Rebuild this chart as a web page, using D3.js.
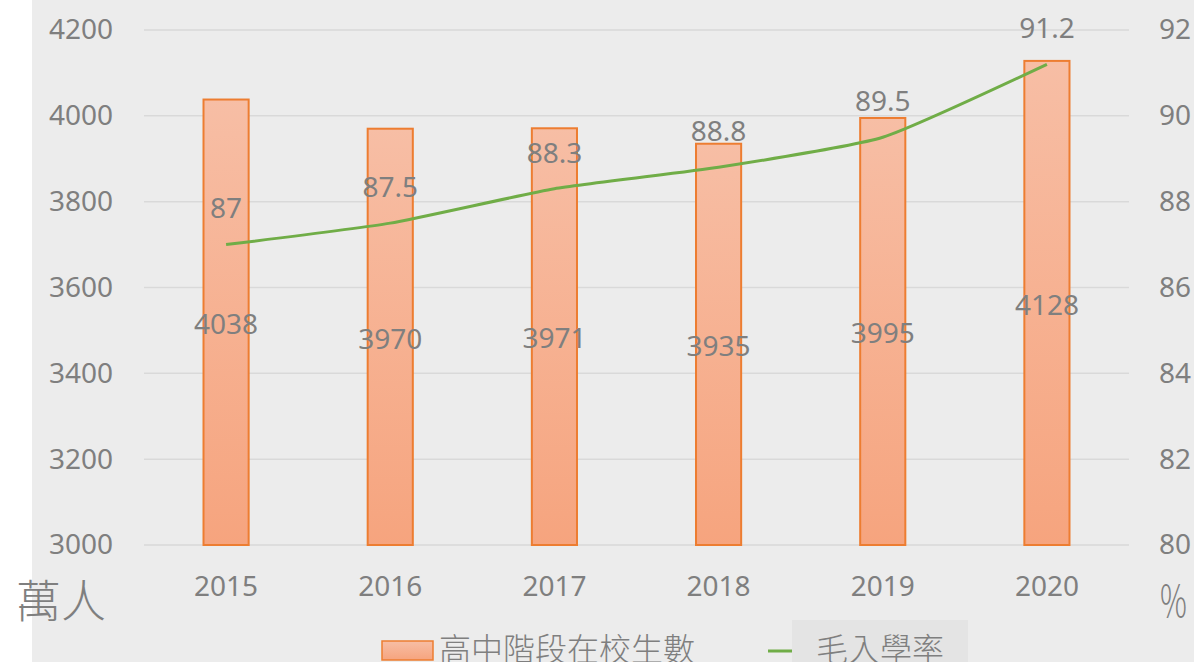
<!DOCTYPE html>
<html>
<head>
<meta charset="utf-8">
<script src="https://cdn.jsdelivr.net/npm/d3@7"></script>
<style>
  body { margin: 0; background: #fff; }
  svg text { fill: #7f7f7f; }
</style>
</head>
<body>
<svg id="chart" width="1194" height="662"></svg>
<script>
var years = ["2015", "2016", "2017", "2018", "2019", "2020"];
var students = [4038, 3970, 3971, 3935, 3995, 4128];   // 萬人
var enrolRate = [87, 87.5, 88.3, 88.8, 89.5, 91.2];    // %
var leftTicks = [3000, 3200, 3400, 3600, 3800, 4000, 4200];
var rightTicks = [80, 82, 84, 86, 88, 90, 92];
var barName = "高中階段在校生數";
var lineName = "毛入學率";

var svg = d3.select("#chart"),
  W = +svg.attr("width"),
  H = +svg.attr("height"),
  plot = {left: 144, right: 1129, top: 30, bottom: 545};

var numFont = "'Noto Sans', 'Open Sans', sans-serif";
var cjkFont = "'Noto Sans CJK TC', 'Noto Sans CJK SC', sans-serif";

// backgrounds
svg.append("rect").attr("width", W).attr("height", H).attr("fill", "#fff");
svg.append("rect").attr("x", 32).attr("y", 0).attr("width", W - 32).attr("height", H).attr("fill", "#ececec");

var defs = svg.append("defs");
var grad = defs.append("linearGradient")
  .attr("id", "barFill")
  .attr("x1", 0).attr("y1", 0).attr("x2", 0).attr("y2", 1);
grad.append("stop").attr("offset", "0%").attr("stop-color", "#f7bea5");
grad.append("stop").attr("offset", "100%").attr("stop-color", "#f6a47e");

var x = d3.scaleBand().domain(years).range([plot.left, plot.right]).padding(0),
  y = d3.scaleLinear().domain([3000, 4200]).range([plot.bottom, plot.top]),
  y2 = d3.scaleLinear().domain([80, 92]).range([plot.bottom, plot.top]);

var barW = x.bandwidth() * 0.275;
var cx = function(d) { return x(d) + x.bandwidth() / 2; };

// gridlines
svg.append("g").selectAll("line")
  .data(leftTicks)
  .enter().append("line")
  .attr("x1", plot.left).attr("x2", plot.right)
  .attr("y1", function(d) { return y(d); })
  .attr("y2", function(d) { return y(d); })
  .attr("stroke", "#d9d9d9")
  .attr("stroke-width", 1.5);

// left axis
var yAxis = d3.axisLeft(y).tickValues(leftTicks).tickFormat(d3.format("d")).tickSize(0).tickPadding(0);
var gl = svg.append("g")
  .attr("transform", "translate(113,0)")
  .call(yAxis);
gl.select(".domain").remove();
gl.selectAll("text").attr("font-family", numFont).attr("font-size", 28).attr("fill", "#7f7f7f");

// right axis
var yAxis2 = d3.axisRight(y2).tickValues(rightTicks).tickFormat(d3.format("d")).tickSize(0).tickPadding(0);
var gr = svg.append("g")
  .attr("transform", "translate(1159,0)")
  .call(yAxis2);
gr.select(".domain").remove();
gr.selectAll("text").attr("font-family", numFont).attr("font-size", 28).attr("fill", "#7f7f7f");

// bottom axis
var xAxis = d3.axisBottom(x).tickSize(0).tickPadding(0);
var gb = svg.append("g")
  .attr("transform", "translate(0,586)")
  .call(xAxis);
gb.select(".domain").remove();
gb.selectAll("text").attr("font-family", numFont).attr("font-size", 28)
  .attr("fill", "#7f7f7f").attr("dy", "0.35em");

// bars
svg.append("g").selectAll("rect")
  .data(students)
  .enter().append("rect")
  .attr("x", function(d, i) { return cx(years[i]) - barW / 2; })
  .attr("y", function(d) { return y(d); })
  .attr("width", barW)
  .attr("height", function(d) { return plot.bottom - y(d); })
  .attr("fill", "url(#barFill)")
  .attr("stroke", "#ed7d31")
  .attr("stroke-width", 2);

// line
var line = d3.line()
  .curve(d3.curveCardinal.tension(0.5))
  .x(function(d, i) { return cx(years[i]); })
  .y(function(d) { return y2(d); });

svg.append("path")
  .datum(enrolRate)
  .attr("d", line)
  .attr("fill", "none")
  .attr("stroke", "#70ad47")
  .attr("stroke-width", 3);

// bar labels (centre of bar)
svg.append("g").selectAll("text")
  .data(students)
  .enter().append("text")
  .attr("x", function(d, i) { return cx(years[i]); })
  .attr("y", function(d) { return (y(d) + plot.bottom) / 2 + 2; })
  .attr("text-anchor", "middle")
  .attr("dy", "0.35em")
  .attr("font-family", numFont)
  .attr("font-size", 28)
  .text(function(d) { return d; });

// line labels (above point)
svg.append("g").selectAll("text")
  .data(enrolRate)
  .enter().append("text")
  .attr("x", function(d, i) { return cx(years[i]); })
  .attr("y", function(d) { return y2(d) - 36; })
  .attr("text-anchor", "middle")
  .attr("dy", "0.35em")
  .attr("font-family", numFont)
  .attr("font-size", 28)
  .text(function(d) { return d; });

// unit labels
svg.append("text")
  .attr("x", 16).attr("y", 602)
  .attr("dy", "0.35em")
  .attr("font-family", cjkFont)
  .attr("font-weight", 300)
  .attr("font-size", 45)
  .text("萬人");

svg.append("text")
  .attr("transform", "translate(1160,602) scale(0.68,1)")
  .attr("dy", "0.35em")
  .attr("font-family", cjkFont)
  .attr("font-weight", 300)
  .attr("font-size", 44)
  .text("%");

// legend
var leg = svg.append("g");
leg.append("rect")
  .attr("x", 792).attr("y", 620).attr("width", 176).attr("height", 50)
  .attr("fill", "#e4e4e4");
leg.append("rect")
  .attr("x", 382).attr("y", 641).attr("width", 51).attr("height", 19)
  .attr("fill", "url(#barFill)")
  .attr("stroke", "#ed7d31")
  .attr("stroke-width", 1.5);
leg.append("text")
  .attr("x", 439).attr("y", 650)
  .attr("dy", "0.35em")
  .attr("font-family", cjkFont)
  .attr("font-weight", 300)
  .attr("font-size", 32)
  .text(barName);
leg.append("line")
  .attr("x1", 768).attr("x2", 792)
  .attr("y1", 651).attr("y2", 651)
  .attr("stroke", "#70ad47")
  .attr("stroke-width", 3);
leg.append("text")
  .attr("x", 816).attr("y", 650)
  .attr("dy", "0.35em")
  .attr("font-family", cjkFont)
  .attr("font-weight", 300)
  .attr("font-size", 32)
  .text(lineName);
</script>
</body>
</html>
